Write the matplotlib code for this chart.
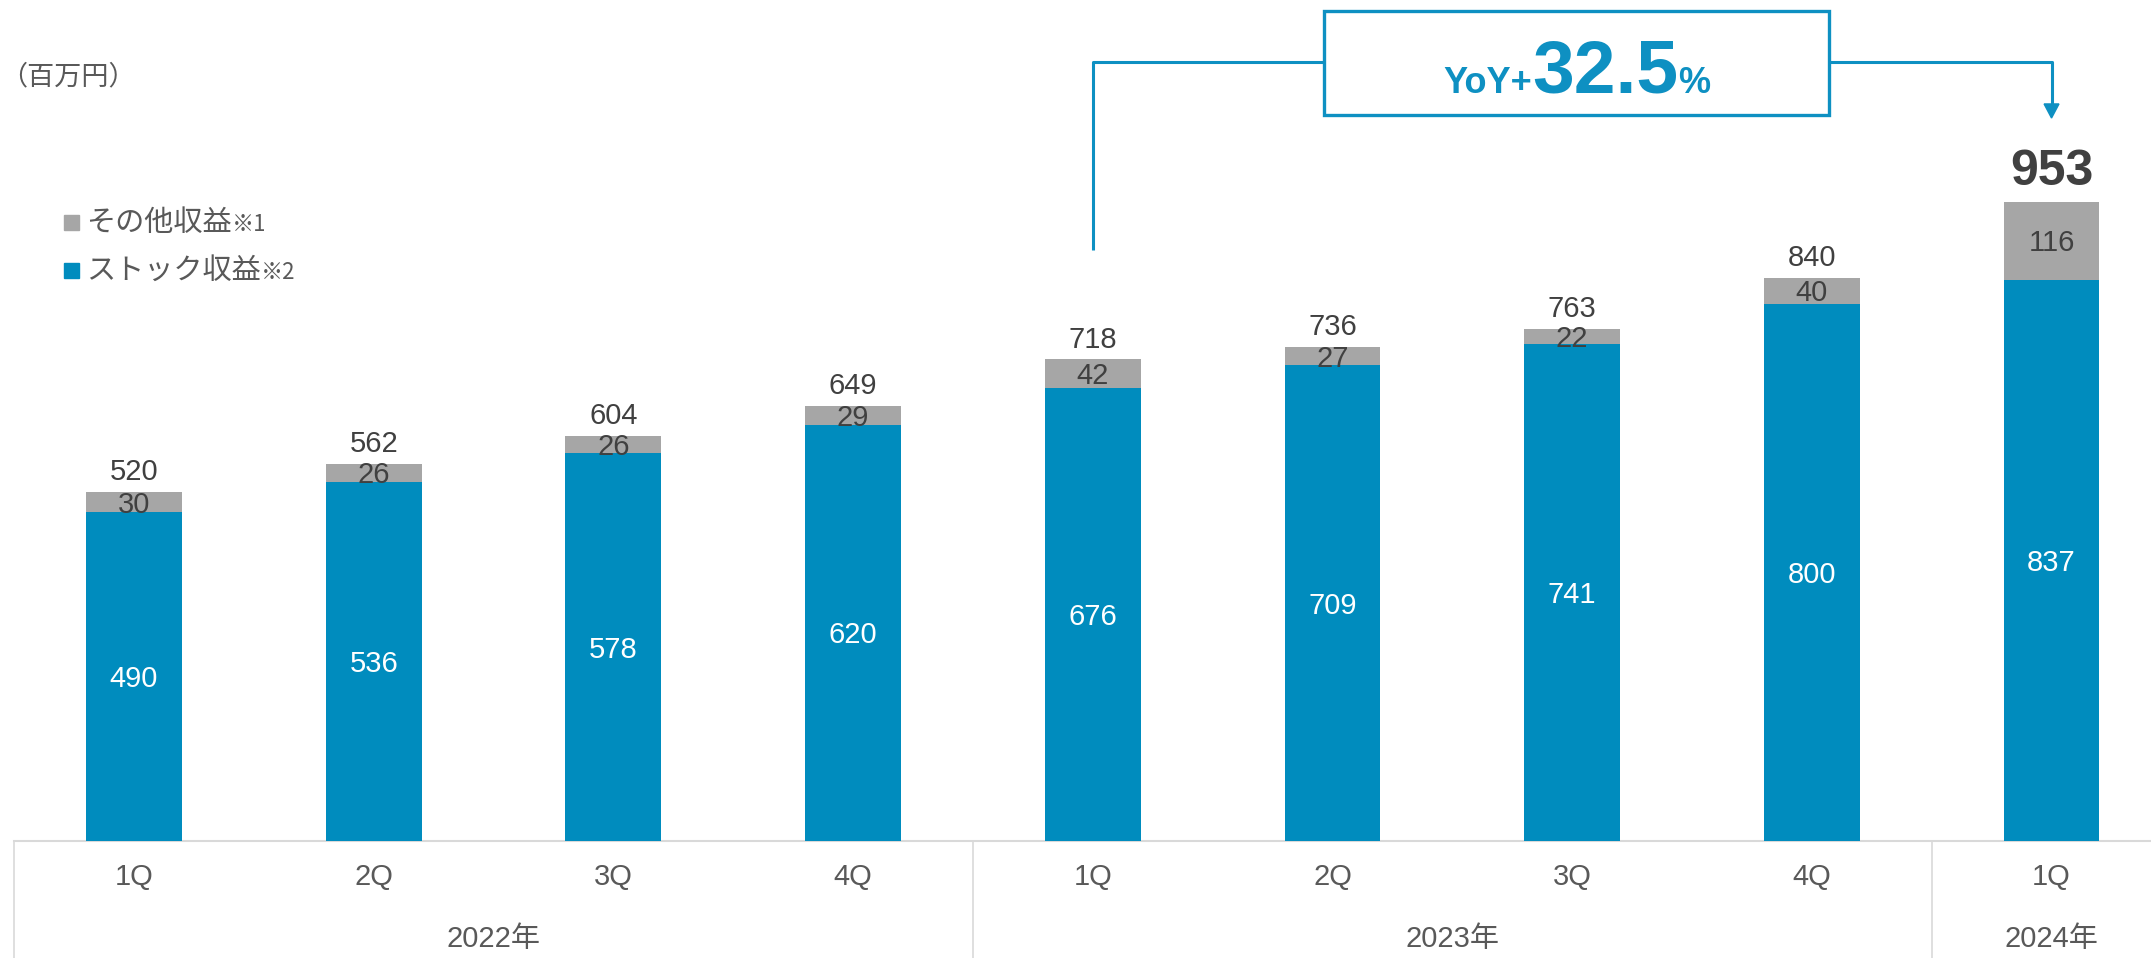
import matplotlib
matplotlib.use('Agg')
import matplotlib.pyplot as plt
from matplotlib.patches import Rectangle, Polygon

plt.rcParams['font.family'] = ['Liberation Sans', 'Noto Sans CJK JP', 'DejaVu Sans']

# data (百万円)
quarters = ['1Q', '2Q', '3Q', '4Q', '1Q', '2Q', '3Q', '4Q', '1Q']
years = ['2022年', '2023年', '2024年']
year_centers = [1.5, 5.5, 8.0]
year_edges = [-0.5, 3.5, 7.5]
stock = [490, 536, 578, 620, 676, 709, 741, 800, 837]
other = [30, 26, 26, 29, 42, 27, 22, 40, 116]
totals = [520, 562, 604, 649, 718, 736, 763, 840, 953]
yoy = '32.5'

BLUE = '#008cbe'
GRAY = '#a6a6a6'
LINE = '#0e90c2'
DARK = '#404040'
MID = '#595959'
AXIS = '#d9d9d9'

W, H = 2151, 958
fig = plt.figure(figsize=(W / 100, H / 100), dpi=100)
ax = fig.add_axes([0, 0, 1, 1])
ax.set_xlim(-0.559, 8.415)
ax.set_ylim(-174.5, 1254)
ax.axis('off')
renderer = fig.canvas.get_renderer()


def px(x, y):
    # full-size pixel position (from top-left) -> figure fraction
    return x / W, 1 - y / H


# bars
x = list(range(len(stock)))
ax.bar(x, stock, width=0.4, color=BLUE, zorder=2)
ax.bar(x, other, bottom=stock, width=0.4, color=GRAY, zorder=2)

# value labels
fs = 21
for i in x:
    ax.annotate(str(stock[i]), (i, stock[i] / 2), xytext=(0, -7.5), textcoords='offset points',
                ha='center', va='baseline', fontsize=fs, color='white', zorder=3)
    ax.annotate(str(other[i]), (i, stock[i] + other[i] / 2), xytext=(0, -7.5), textcoords='offset points',
                ha='center', va='baseline', fontsize=fs, color=DARK, zorder=3)
    last = i == len(x) - 1
    ax.annotate(str(totals[i]), (i, totals[i]), xytext=(0, 12 if last else 8.6),
                textcoords='offset points', ha='center', va='baseline',
                fontsize=36 if last else fs, fontweight='bold' if last else 'normal',
                color=DARK, zorder=3)

# category axis
ax.plot([-0.5, 8.415], [0, 0], color=AXIS, lw=1.5, zorder=1)
for e in year_edges:
    ax.plot([e, e], [0, -174.5], color=AXIS, lw=1.2, zorder=1)
for i in x:
    ax.text(i, -65.6, quarters[i], ha='center', va='baseline', fontsize=fs, color=MID)
for c, y in zip(year_centers, years):
    ax.text(c, -158, y, ha='center', va='baseline', fontsize=fs, color=MID)

# YoY connector
ax.plot([4, 4, 4.965], [881, 1162, 1162], color=LINE, lw=2.2, solid_capstyle='butt', zorder=1)
ax.plot([7.07, 8.0, 8.0], [1162, 1162, 1098], color=LINE, lw=2.2, solid_capstyle='butt', zorder=1)
ax.add_patch(Polygon([[8.0 - 0.031, 1099], [8.0 + 0.031, 1099], [8.0, 1078]],
                     closed=True, color=LINE, zorder=2))
ax.add_patch(Rectangle((4.965, 1083), 7.07 - 4.965, 1238 - 1083, facecolor='white',
                       edgecolor=LINE, lw=2.4, zorder=2))

parts = [('YoY+', 26), (yoy, 54), ('%', 26)]
widths = []
for s, size in parts:
    t = ax.text(0, 0, s, fontsize=size, fontweight='bold')
    widths.append(t.get_window_extent(renderer).width)
    t.remove()
cx = ax.transData.transform((6.02, 0))[0]
start = cx - sum(widths) / 2
inv = ax.transData.inverted()
for (s, size), w in zip(parts, widths):
    xd = inv.transform((start, 0))[0]
    ax.text(xd, 1115.6, s, fontsize=size, fontweight='bold', color=LINE,
            ha='left', va='baseline', zorder=3)
    start += w

# unit label
fig.text(*px(0, 77), '（百万円）', ha='left', va='center', fontsize=19.5, color=MID,
         family=['Noto Sans CJK JP', 'DejaVu Sans'])

# legend
legend = [('その他収益', '※1', GRAY, 222), ('ストック収益', '※2', BLUE, 270)]
for name, note, col, yc in legend:
    fig.patches.append(Rectangle(px(64, yc + 7.5), 15 / W, 15 / H, transform=fig.transFigure,
                                 color=col, figure=fig))
    t = fig.text(*px(86, yc + 9), name, ha='left', va='baseline', fontsize=21, color=MID,
                 family=['Noto Sans CJK JP', 'DejaVu Sans'])
    bb = t.get_window_extent(renderer)
    fig.text(bb.x1 / W, 1 - (yc + 9) / H, note, ha='left', va='baseline', fontsize=16,
             color=MID, family=['Noto Sans CJK JP', 'DejaVu Sans'])

fig.savefig('out.png', dpi=100)
